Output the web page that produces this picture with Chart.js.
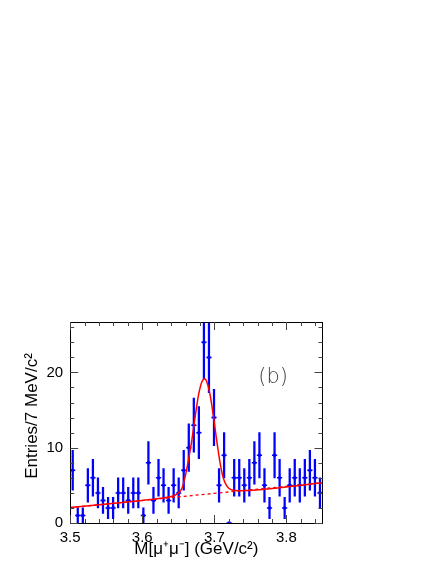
<!DOCTYPE html>
<html>
<head>
<meta charset="utf-8">
<script src="https://cdn.jsdelivr.net/npm/chart.js@4.4.1/dist/chart.umd.min.js"></script>
<style>
html,body{margin:0;padding:0;background:#fff;}
#wrap{position:relative;width:436px;height:564px;}
</style>
</head>
<body>
<div id="wrap"><canvas id="c" width="436" height="564"></canvas></div>
<script>
// ---- data ----
const binCenters = [3.5035,3.5105,3.5175,3.5245,3.5315,3.5385,3.5455,3.5525,3.5595,3.5665,
  3.5735,3.5805,3.5875,3.5945,3.6015,3.6085,3.6155,3.6225,3.6295,3.6365,
  3.6435,3.6505,3.6575,3.6645,3.6715,3.6785,3.6855,3.6925,3.6995,3.7065,
  3.7135,3.7205,3.7275,3.7345,3.7415,3.7485,3.7555,3.7625,3.7695,3.7765,
  3.7835,3.7905,3.7975,3.8045,3.8115,3.8185,3.8255,3.8325,3.8395,3.8465];
const counts = [7,1,1,5,6,4,3,2,2,4,
  4,3,4,4,1,8,3,6,5,3,
  5,4,7,10,13,12,24,22,14,5,
  9,0,6,6,5,6,8,9,5,2,
  9,6,2,5,6,5,6,7,6,4];
const fitX = [3.5,3.6,3.625,3.6386,3.6479,3.6549,3.6594,3.664,3.6687,3.6733,3.6779,3.6826,3.6863,
  3.6904,3.6942,3.6988,3.7035,3.7081,3.7126,3.7174,3.7243,3.735,3.85];
const fitY = [2.05,3.0,3.28,3.48,3.84,4.59,6.13,8.34,10.99,14.08,16.95,18.72,19.16,
  18.5,16.95,14.08,10.77,7.9,5.9,4.9,4.37,4.3,5.35];
const bgX = [3.5,3.85];
const bgY = [2.05,5.35];
const xTickLabels = [3.5,3.6,3.7,3.8];
const yTickLabels = [0,10,20];
const xRange = [3.5,3.85];
const yRange = [0,26.7];
const xTitle = 'M[\u03bc\u207a\u03bc\u207b] (GeV/c\u00b2)';
const yTitle = 'Entries/7 MeV/c\u00b2';
const panelLabel = '(b)';

// ---- chart ----
const FONT = '"Liberation Sans", Arial, Helvetica, sans-serif';
const errData = binCenters.map((x,i)=>({x:x, y:[counts[i]-Math.sqrt(counts[i]), counts[i]+Math.sqrt(counts[i])]}));
const ptData = binCenters.map((x,i)=>({x:x, y:counts[i]}));

const framePlugin = {
  id:'frame',
  afterDraw(chart){
    const {ctx, chartArea:a, scales:{x, y}} = chart;
    ctx.save();
    ctx.strokeStyle = '#000';
    ctx.lineWidth = 1;
    ctx.strokeRect(Math.round(a.left)+0.5, Math.round(a.top)+0.5, Math.round(a.right-a.left), Math.round(a.bottom-a.top));
    ctx.strokeStyle = '#444';
    for (let k=0;k<=17;k++){
      const v = xRange[0] + k*0.02;
      const px = Math.round(x.getPixelForValue(v))+0.5;
      const L = (k%5===0) ? 8 : 4;
      ctx.beginPath();
      ctx.moveTo(px,a.bottom); ctx.lineTo(px,a.bottom-L);
      ctx.moveTo(px,a.top); ctx.lineTo(px,a.top+L);
      ctx.stroke();
    }
    for (let v=0; v<=26; v+=2){
      const py = Math.round(y.getPixelForValue(v))+0.5;
      const L = (v%10===0) ? 8 : 4;
      ctx.beginPath();
      ctx.moveTo(a.left,py); ctx.lineTo(a.left+L,py);
      ctx.moveTo(a.right,py); ctx.lineTo(a.right-L,py);
      ctx.stroke();
    }
    // y-axis title
    ctx.fillStyle = '#000';
    ctx.font = '17px ' + FONT;
    ctx.textAlign = 'center';
    ctx.textBaseline = 'middle';
    ctx.translate(32, a.top + 94);
    ctx.rotate(-Math.PI/2);
    ctx.fillText(yTitle, 0, 0);
    ctx.setTransform(1,0,0,1,0,0);
    // panel label
    ctx.fillStyle = '#444';
    ctx.font = '200 21px "DejaVu Sans", ' + FONT;
    ctx.fillText(panelLabel, a.left + 203, a.top + 55.5);
    ctx.restore();
  }
};

new Chart(document.getElementById('c'), {
  data:{
    datasets:[
      {type:'line', data:fitX.map((x,i)=>({x:x,y:fitY[i]})), borderColor:'#ff0000', borderWidth:1.5,
       pointRadius:0, cubicInterpolationMode:'monotone', order:0},
      {type:'line', data:bgX.map((x,i)=>({x:x,y:bgY[i]})), borderColor:'#ff0000', borderWidth:1.3,
       borderDash:[3,3], pointRadius:0, order:0},
      {type:'scatter', data:ptData, pointStyle:'line', radius:2.6, borderColor:'#0000ff', borderWidth:1.5,
       backgroundColor:'#0000ff', order:1},
      {type:'scatter', data:ptData, pointStyle:'rect', radius:2, borderWidth:0,
       backgroundColor:'#0000ff', order:1},
      {type:'bar', data:errData, backgroundColor:'#0000ff', borderWidth:0, barThickness:1.6, grouped:false, order:2}
    ]
  },
  options:{
    responsive:false,
    animation:false,
    devicePixelRatio:1,
    layout:{padding:{top:322, right:113.5, left:0, bottom:0}},
    plugins:{legend:{display:false}, tooltip:{enabled:false}},
    scales:{
      x:{type:'linear', min:xRange[0], max:xRange[1], offset:false,
        grid:{display:false, drawTicks:false, tickLength:0}, border:{display:false},
        afterFit(s){ s.height = 41; },
        afterBuildTicks(s){ s.ticks = xTickLabels.map(v=>({value:v})); },
        ticks:{color:'#000', padding:6, maxRotation:0, font:{family:FONT, size:15},
          callback:(v)=>Number(v).toFixed(1)},
        title:{display:true, text:xTitle, color:'#000', font:{family:FONT, size:17}, padding:{top:0,bottom:4}}
      },
      y:{type:'linear', min:yRange[0], max:yRange[1],
        grid:{display:false, drawTicks:false, tickLength:0}, border:{display:false},
        afterFit(s){ s.width = 70.2; },
        afterBuildTicks(s){ s.ticks = yTickLabels.map(v=>({value:v})); },
        ticks:{color:'#000', padding:7, font:{family:FONT, size:15}},
        title:{display:false}
      }
    }
  },
  plugins:[framePlugin]
});
</script>
</body>
</html>
